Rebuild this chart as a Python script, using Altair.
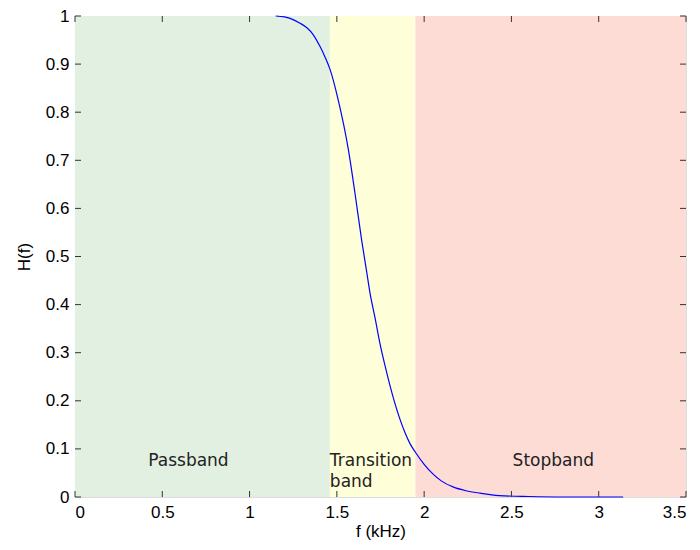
import altair as alt
import pandas as pd

# Band regions (kHz)
band_names = ["Passband", "Transition", "Stopband"]
band_start = [0.0, 1.46, 1.95]
band_end = [1.46, 1.95, 3.5]
band_colors = ["#E2F0E2", "#FEFED8", "#FDDCD6"]

# Filter response
freq = [1.15, 1.20, 1.232, 1.289, 1.33, 1.363, 1.403, 1.432, 1.46, 1.508, 1.566, 1.604,
        1.642, 1.67, 1.69, 1.719, 1.747, 1.776, 1.804, 1.833, 1.89, 1.919, 1.948, 2.0,
        2.05, 2.10, 2.165, 2.24, 2.32, 2.43, 2.6, 2.8, 3.14]
resp = [1.0, 0.998, 0.995, 0.985, 0.975, 0.962, 0.937, 0.915, 0.89, 0.825, 0.722, 0.631,
        0.534, 0.47, 0.424, 0.372, 0.319, 0.273, 0.232, 0.194, 0.134, 0.111, 0.094, 0.068,
        0.048, 0.033, 0.021, 0.013, 0.008, 0.003, 0.001, 0.0, 0.0]

# Text annotations
center_text = ["Passband", "Stopband"]
center_x = [0.65, 2.74]
center_y = [0.075, 0.075]
left_text = ["Transition", "band"]
left_x = [1.46, 1.46]
left_y = [0.075, 0.032]

x_ticks = [0, 0.5, 1, 1.5, 2, 2.5, 3, 3.5]
y_ticks = [0, 0.1, 0.2, 0.3, 0.4, 0.5, 0.6, 0.7, 0.8, 0.9, 1]

W, H = 611, 481
FONT = "Liberation Sans"

bands = pd.DataFrame({"name": band_names, "x0": band_start, "x1": band_end})
curve = pd.DataFrame({"f": freq, "h": resp})
clab = pd.DataFrame({"t": center_text, "x": center_x, "y": center_y})
llab = pd.DataFrame({"t": left_text, "x": left_x, "y": left_y})
xt = pd.DataFrame({"v": x_ticks})
yt = pd.DataFrame({"v": y_ticks})

xscale = alt.Scale(domain=[0, 3.5], nice=False, zero=False)
yscale = alt.Scale(domain=[0, 1], nice=False, zero=False)

xaxis = alt.Axis(values=x_ticks, format="~g", ticks=False, domain=False, grid=False,
                 labelFont=FONT, labelFontSize=17, labelColor="black", labelPadding=7,
                 title="f (kHz)", titleFont=FONT, titleFontSize=17, titleFontWeight="normal",
                 titleColor="black", titlePadding=3)
yaxis = alt.Axis(values=y_ticks, format="~g", ticks=False, domain=False, grid=False,
                 labelFont=FONT, labelFontSize=17, labelColor="black", labelPadding=6,
                 title="H(f)", titleFont=FONT, titleFontSize=17, titleFontWeight="normal",
                 titleColor="black", titlePadding=12)

rects = alt.Chart(bands).mark_rect().encode(
    x=alt.X("x0:Q", scale=xscale, axis=xaxis),
    x2="x1:Q",
    y=alt.value(0),
    y2=alt.value(H),
    color=alt.Color("name:N", scale=alt.Scale(domain=band_names, range=band_colors), legend=None),
)

line = alt.Chart(curve).mark_line(color="#0000FF", strokeWidth=1.2, interpolate="monotone").encode(
    x=alt.X("f:Q", scale=xscale),
    y=alt.Y("h:Q", scale=yscale, axis=yaxis),
)

text_c = alt.Chart(clab).mark_text(font="DejaVu Sans", fontSize=17, color="#222222",
                                   baseline="middle", align="center").encode(
    x=alt.X("x:Q", scale=xscale), y=alt.Y("y:Q", scale=yscale), text="t:N")
text_l = alt.Chart(llab).mark_text(font="DejaVu Sans", fontSize=17, color="#222222",
                                   baseline="middle", align="left").encode(
    x=alt.X("x:Q", scale=xscale), y=alt.Y("y:Q", scale=yscale), text="t:N")

tick_color = "#333333"
xt_bot = alt.Chart(xt).mark_rule(color=tick_color, strokeWidth=1).encode(
    x=alt.X("v:Q", scale=xscale), y=alt.value(H), y2=alt.value(H - 6))
xt_top = alt.Chart(xt).mark_rule(color=tick_color, strokeWidth=1).encode(
    x=alt.X("v:Q", scale=xscale), y=alt.value(0), y2=alt.value(6))
yt_left = alt.Chart(yt).mark_rule(color=tick_color, strokeWidth=1).encode(
    y=alt.Y("v:Q", scale=yscale), x=alt.value(0), x2=alt.value(6))
yt_right = alt.Chart(yt).mark_rule(color=tick_color, strokeWidth=1).encode(
    y=alt.Y("v:Q", scale=yscale), x=alt.value(W), x2=alt.value(W - 6))

chart = alt.layer(rects, line, text_c, text_l, xt_bot, xt_top, yt_left, yt_right).properties(
    width=W, height=H,
    autosize=alt.AutoSizeParams(type="none"),
    padding={"left": 67, "top": 8, "right": 6, "bottom": 45},
).configure_view(stroke="#333333", strokeWidth=1.5).configure(background="white")

chart.save("out.html", embed_options={"renderer": "svg", "actions": False})
